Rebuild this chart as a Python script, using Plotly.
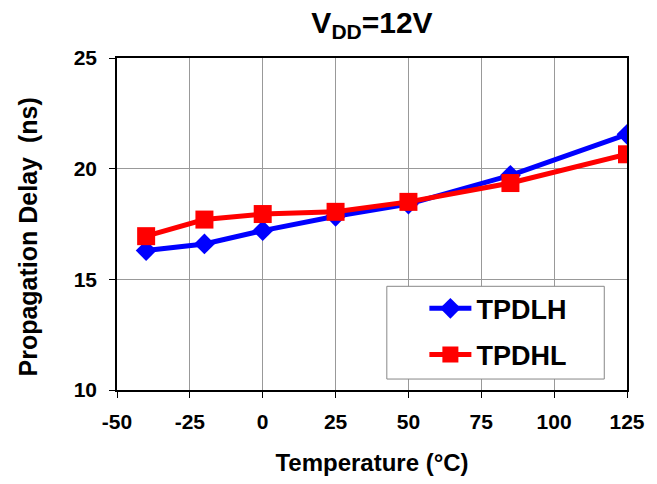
import plotly.graph_objects as go

temperature = [-40, -20, 0, 25, 50, 85, 125]
tpdlh = [16.3, 16.6, 17.2, 17.85, 18.4, 19.7, 21.55]
tpdhl = [16.95, 17.7, 17.95, 18.05, 18.5, 19.35, 20.65]

x_ticks = [-50, -25, 0, 25, 50, 75, 100, 125]
x_ticktext = ["-50", "-25", "0", "25", "50", "75", "100", "125"]
y_ticks = [10, 15, 20, 25]
y_ticktext = ["10", "15", "20", "25"]

FONT = "Liberation Sans, Arial, sans-serif"

fig = go.Figure()
fig.add_trace(go.Scatter(
    x=temperature, y=tpdlh, name="TPDLH", mode="lines+markers",
    line=dict(color="#0000FF", width=5),
    marker=dict(symbol="diamond", size=16, color="#0000FF"),
    legendgroup="a",
))
fig.add_trace(go.Scatter(
    x=temperature, y=tpdhl, name="TPDHL", mode="lines+markers",
    line=dict(color="#FF0000", width=5),
    marker=dict(symbol="square", size=18, color="#FF0000"),
    legendgroup="b",
))

axis_common = dict(
    showgrid=True, gridcolor="#999999", gridwidth=1,
    showline=True, linecolor="black", linewidth=1.5, mirror=True,
    ticks="outside", ticklen=6, tickcolor="black", tickwidth=1,
    tickfont=dict(family=FONT, size=21, color="black", weight="bold"),
    zeroline=False,
)

# plot-area pixel geometry: left 117, width 516, top 58, height 333
box_x0 = (390 - 117) / 516
box_x1 = (610 - 117) / 516
box_y0 = (391 - 380) / 333
box_y1 = (391 - 287) / 333

fig.update_layout(
    width=657, height=484,
    margin=dict(l=117, r=24, t=58, b=93),
    paper_bgcolor="white", plot_bgcolor="white",
    title=dict(
        text="V<sub>DD</sub>=12V", x=0.5, xref="paper", xanchor="center",
        y=1 - 22 / 484, yanchor="middle",
        font=dict(family=FONT, size=30, color="black", weight="bold"),
    ),
    xaxis=dict(
        range=[-50, 125], tickvals=x_ticks, ticktext=x_ticktext,
        ticklabelstandoff=6,
        title=dict(text="Temperature (°C)", standoff=22,
                   font=dict(family=FONT, size=24, color="black", weight="bold")),
        **axis_common,
    ),
    yaxis=dict(
        range=[10, 25], tickvals=y_ticks, ticktext=y_ticktext,
        ticklabelstandoff=8,
        **axis_common,
    ),
    annotations=[dict(
        text="Propagation Delay\u00a0 (ns)", textangle=-90,
        xref="paper", yref="paper",
        x=(27 - 117) / 516, y=(391 - 238) / 333,
        xanchor="center", yanchor="middle", showarrow=False,
        font=dict(family=FONT, size=25, color="black", weight="bold"),
    )],
    legend=dict(
        x=(428 - 117) / 516, y=(391 - 285) / 333, xanchor="left", yanchor="top",
        borderwidth=0, bgcolor="rgba(0,0,0,0)",
        font=dict(family=FONT, size=27, color="black", weight="bold"),
        itemwidth=42, tracegroupgap=8,
    ),
    shapes=[dict(
        type="rect", xref="paper", yref="paper",
        x0=box_x0, x1=box_x1, y0=box_y0, y1=box_y1,
        line=dict(color="#888888", width=1), fillcolor="white", layer="above",
    )],
    showlegend=True,
)

fig.write_html("out.html")
